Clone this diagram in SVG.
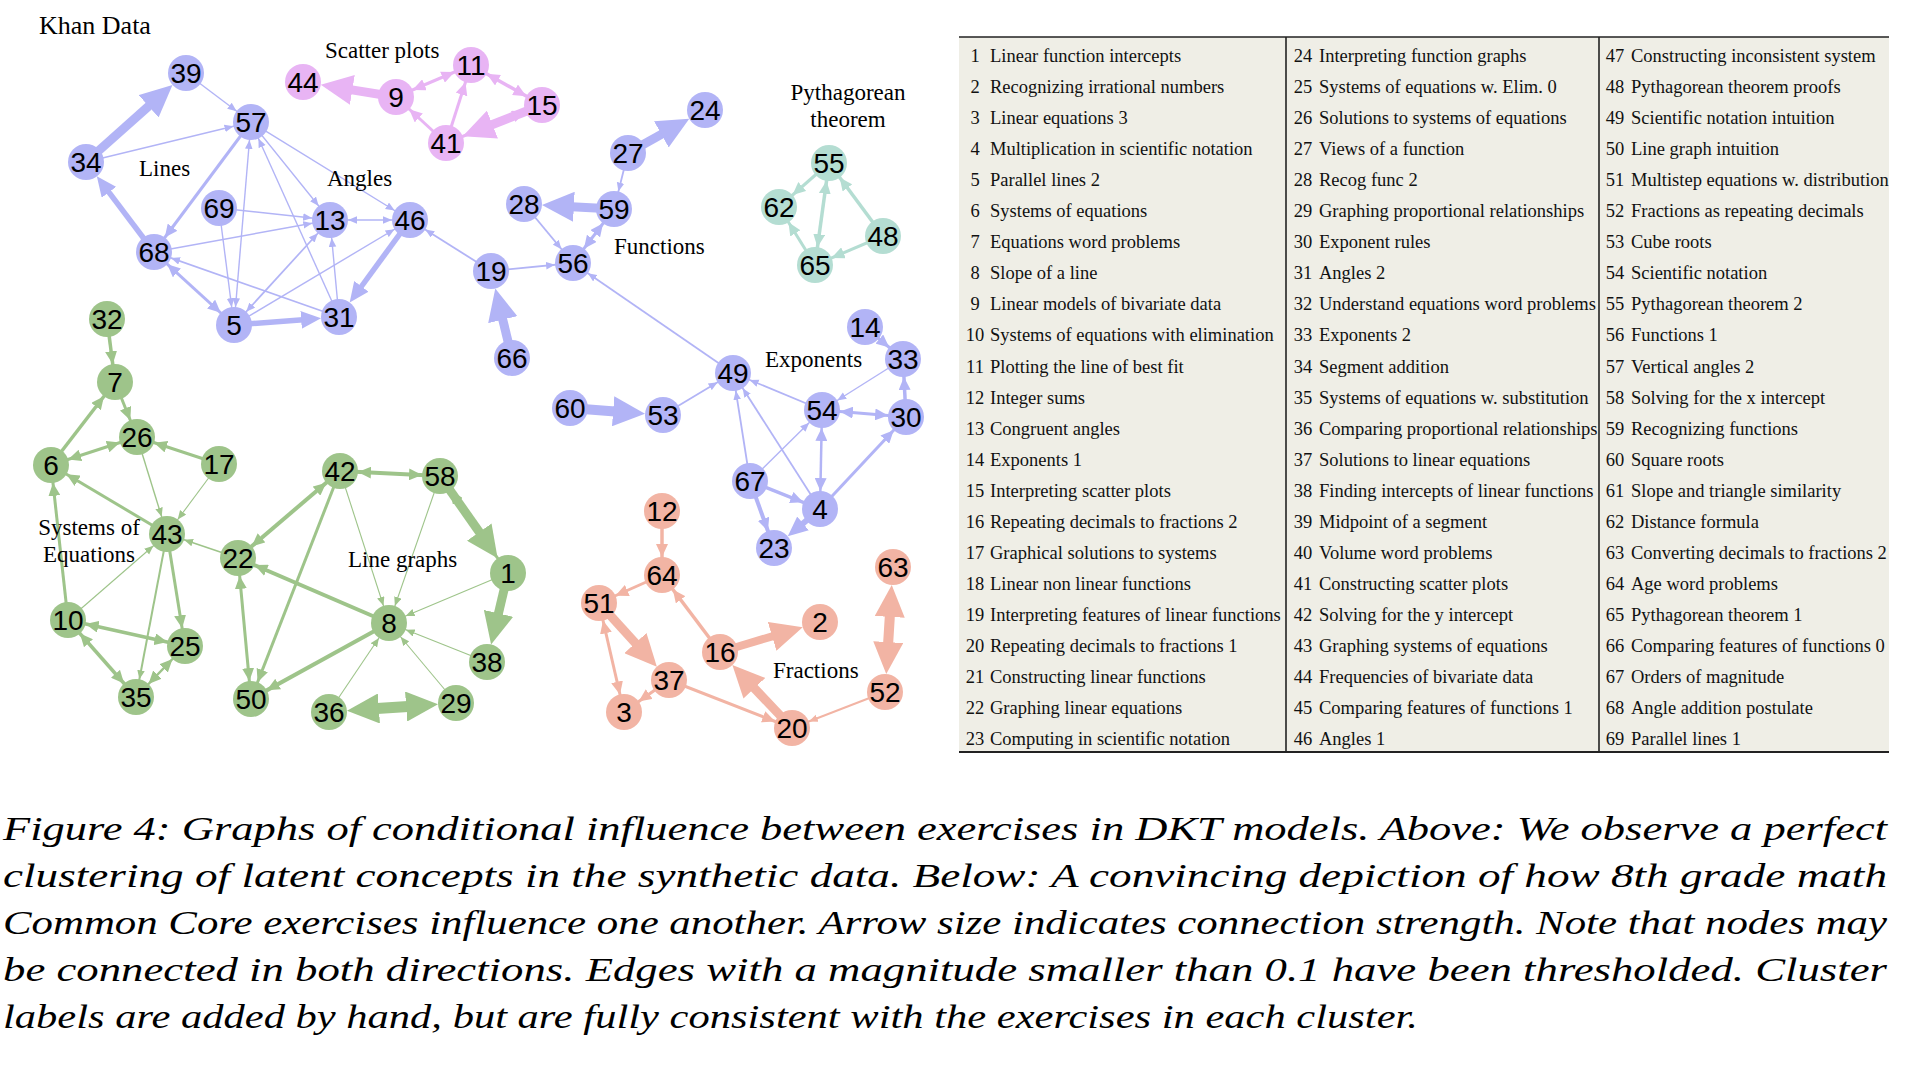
<svg xmlns="http://www.w3.org/2000/svg" width="1914" height="1070" viewBox="0 0 1914 1070">
<style>
.fB{fill:#b2b4f6}.fP{fill:#e8b4f4}.fG{fill:#9ec48a}.fT{fill:#b4ddd2}.fS{fill:#f2b4a4}
#edges line{fill:none;stroke-linecap:butt}
.B{stroke:#b2b4f6}.P{stroke:#e8b4f4}.G{stroke:#9ec48a}.T{stroke:#b4ddd2}.S{stroke:#f2b4a4}
.s{stroke-width:1.4}.m{stroke-width:3}.l{stroke-width:5.5}.x{stroke-width:9}
.node text{font-family:"Liberation Sans",Arial,sans-serif;font-size:28px;text-anchor:middle;fill:#000}
.lab{font-family:"Liberation Serif","Times New Roman",serif;font-size:23px;fill:#000}
.tab{font-family:"Liberation Serif","Times New Roman",serif;font-size:18.5px;fill:#111}
.cap{font-family:"Liberation Serif","Times New Roman",serif;font-style:italic;font-size:34px;fill:#000}
.rule{stroke:#222;stroke-width:1.6}
</style>
<defs>
<marker id="Bs" markerUnits="userSpaceOnUse" orient="auto-start-reverse" markerWidth="10" markerHeight="8" refX="27" refY="3.8"><path class="fB" d="M9,3.8L0,0L0,7.6Z"/></marker>
<marker id="Bm" markerUnits="userSpaceOnUse" orient="auto-start-reverse" markerWidth="14" markerHeight="12" refX="31" refY="6"><path class="fB" d="M13,6L0,0L0,12Z"/></marker>
<marker id="Bl" markerUnits="userSpaceOnUse" orient="auto-start-reverse" markerWidth="21" markerHeight="18" refX="2" refY="9"><path class="fB" d="M20,9L0,0L0,18Z"/></marker>
<marker id="Bx" markerUnits="userSpaceOnUse" orient="auto-start-reverse" markerWidth="33" markerHeight="30" refX="2" refY="15"><path class="fB" d="M32,15L0,0L0,30Z"/></marker>
<marker id="Pm" markerUnits="userSpaceOnUse" orient="auto-start-reverse" markerWidth="14" markerHeight="12" refX="31" refY="6"><path class="fP" d="M13,6L0,0L0,12Z"/></marker>
<marker id="Px" markerUnits="userSpaceOnUse" orient="auto-start-reverse" markerWidth="33" markerHeight="30" refX="2" refY="15"><path class="fP" d="M32,15L0,0L0,30Z"/></marker>
<marker id="Tm" markerUnits="userSpaceOnUse" orient="auto-start-reverse" markerWidth="14" markerHeight="12" refX="31" refY="6"><path class="fT" d="M13,6L0,0L0,12Z"/></marker>
<marker id="Gs" markerUnits="userSpaceOnUse" orient="auto-start-reverse" markerWidth="10" markerHeight="8" refX="27" refY="3.8"><path class="fG" d="M9,3.8L0,0L0,7.6Z"/></marker>
<marker id="Gm" markerUnits="userSpaceOnUse" orient="auto-start-reverse" markerWidth="14" markerHeight="12" refX="31" refY="6"><path class="fG" d="M13,6L0,0L0,12Z"/></marker>
<marker id="Gx" markerUnits="userSpaceOnUse" orient="auto-start-reverse" markerWidth="33" markerHeight="30" refX="2" refY="15"><path class="fG" d="M32,15L0,0L0,30Z"/></marker>
<marker id="Ss" markerUnits="userSpaceOnUse" orient="auto-start-reverse" markerWidth="10" markerHeight="8" refX="27" refY="3.8"><path class="fS" d="M9,3.8L0,0L0,7.6Z"/></marker>
<marker id="Sm" markerUnits="userSpaceOnUse" orient="auto-start-reverse" markerWidth="14" markerHeight="12" refX="31" refY="6"><path class="fS" d="M13,6L0,0L0,12Z"/></marker>
<marker id="Sx" markerUnits="userSpaceOnUse" orient="auto-start-reverse" markerWidth="33" markerHeight="30" refX="2" refY="15"><path class="fS" d="M32,15L0,0L0,30Z"/></marker>
</defs>
<rect width="1914" height="1070" fill="#fff"/>

<g id="edges">
<line class="B x" x1="86" y1="162" x2="150.1" y2="104.9" marker-end="url(#Bx)"/>
<line class="B s" x1="186" y1="73" x2="251" y2="122" marker-end="url(#Bs)"/>
<line class="B s" x1="86" y1="162" x2="251" y2="122" marker-end="url(#Bs)"/>
<line class="B m" x1="251" y1="122" x2="154" y2="252" marker-end="url(#Bm)"/>
<line class="B l" x1="154" y1="252" x2="107.7" y2="190.7" marker-end="url(#Bl)"/>
<line class="B s" x1="251" y1="122" x2="234" y2="325" marker-start="url(#Bs)" marker-end="url(#Bs)"/>
<line class="B s" x1="339" y1="317" x2="251" y2="122" marker-end="url(#Bs)"/>
<line class="B s" x1="251" y1="122" x2="330" y2="220" marker-end="url(#Bs)"/>
<line class="B s" x1="251" y1="122" x2="410" y2="220" marker-end="url(#Bs)"/>
<line class="B s" x1="219" y1="208" x2="330" y2="220" marker-end="url(#Bs)"/>
<line class="B s" x1="219" y1="208" x2="234" y2="325" marker-end="url(#Bs)"/>
<line class="B s" x1="154" y1="252" x2="330" y2="220" marker-end="url(#Bs)"/>
<line class="B s" x1="330" y1="220" x2="410" y2="220" marker-start="url(#Bs)" marker-end="url(#Bs)"/>
<line class="B m" x1="154" y1="252" x2="234" y2="325" marker-start="url(#Bm)" marker-end="url(#Bm)"/>
<line class="B s" x1="339" y1="317" x2="154" y2="252" marker-end="url(#Bs)" style="stroke-width:1.8"/>
<line class="B s" x1="234" y1="325" x2="330" y2="220" marker-start="url(#Bs)" marker-end="url(#Bs)" style="stroke-width:1.7"/>
<line class="B s" x1="234" y1="325" x2="410" y2="220" marker-end="url(#Bs)"/>
<line class="B l" x1="234" y1="325" x2="303.1" y2="319.7" marker-end="url(#Bl)"/>
<line class="B s" x1="339" y1="317" x2="330" y2="220" marker-end="url(#Bs)"/>
<line class="B l" x1="410" y1="220" x2="360.3" y2="288" marker-end="url(#Bl)"/>
<line class="B s" x1="491" y1="271" x2="410" y2="220" marker-end="url(#Bs)" style="stroke-width:1.8"/>
<line class="B s" x1="491" y1="271" x2="573" y2="263" marker-end="url(#Bs)" style="stroke-width:1.8"/>
<line class="B x" x1="512" y1="358" x2="502.3" y2="317.7" marker-end="url(#Bx)"/>
<line class="B s" x1="524" y1="204" x2="573" y2="263" marker-end="url(#Bs)" style="stroke-width:1.8"/>
<line class="B x" x1="614" y1="209" x2="571.9" y2="206.7" marker-end="url(#Bx)"/>
<line class="B m" x1="614" y1="209" x2="573" y2="263" marker-start="url(#Bm)" marker-end="url(#Bm)"/>
<line class="B s" x1="628" y1="153" x2="614" y2="209" marker-end="url(#Bs)" style="stroke-width:1.8"/>
<line class="B x" x1="628" y1="153" x2="663.1" y2="133.4" marker-end="url(#Bx)"/>
<line class="B s" x1="733" y1="373" x2="573" y2="263" marker-end="url(#Bs)" style="stroke-width:1.8"/>

<line class="P x" x1="396" y1="97" x2="350.4" y2="89.6" marker-end="url(#Px)"/>
<line class="P m" x1="396" y1="97" x2="471" y2="65" marker-start="url(#Pm)" marker-end="url(#Pm)"/>
<line class="P m" x1="446" y1="143" x2="396" y2="97" marker-end="url(#Pm)"/>
<line class="P m" x1="446" y1="143" x2="471" y2="65" marker-end="url(#Pm)"/>
<line class="P m" x1="471" y1="65" x2="542" y2="105" marker-start="url(#Pm)" marker-end="url(#Pm)" style="stroke-width:3.5"/>
<line class="P m" x1="446" y1="143" x2="542" y2="105" marker-end="url(#Pm)"/>
<line class="P x" x1="542" y1="105" x2="490.6" y2="125.3" marker-end="url(#Px)"/>

<line class="T m" x1="829" y1="163" x2="779" y2="207" marker-end="url(#Tm)"/>
<line class="T m" x1="815" y1="265" x2="829" y2="163" marker-start="url(#Tm)" marker-end="url(#Tm)" style="stroke-width:3.5"/>
<line class="T m" x1="815" y1="265" x2="779" y2="207" marker-end="url(#Tm)"/>
<line class="T m" x1="883" y1="236" x2="829" y2="163" marker-end="url(#Tm)" style="stroke-width:3.5"/>
<line class="T m" x1="883" y1="236" x2="815" y2="265" marker-end="url(#Tm)"/>

<line class="G m" x1="107" y1="319" x2="115" y2="382" marker-end="url(#Gm)" style="stroke-width:3.5"/>
<line class="G m" x1="51" y1="465" x2="115" y2="382" marker-end="url(#Gm)" style="stroke-width:3.5"/>
<line class="G m" x1="115" y1="382" x2="137" y2="437" marker-end="url(#Gm)"/>
<line class="G m" x1="51" y1="465" x2="137" y2="437" marker-start="url(#Gm)" marker-end="url(#Gm)"/>
<line class="G m" x1="219" y1="464" x2="137" y2="437" marker-end="url(#Gm)"/>
<line class="G m" x1="167" y1="534" x2="51" y2="465" marker-end="url(#Gm)"/>
<line class="G s" x1="137" y1="437" x2="167" y2="534" marker-end="url(#Gs)"/>
<line class="G s" x1="219" y1="464" x2="167" y2="534" marker-end="url(#Gs)" style="stroke-width:1.1"/>
<line class="G m" x1="68" y1="620" x2="51" y2="465" marker-end="url(#Gm)"/>
<line class="G s" x1="68" y1="620" x2="167" y2="534" marker-end="url(#Gs)" style="stroke-width:1.1"/>
<line class="G m" x1="167" y1="534" x2="185" y2="646" marker-end="url(#Gm)"/>
<line class="G s" x1="167" y1="534" x2="136" y2="697" marker-end="url(#Gs)" style="stroke-width:2"/>
<line class="G s" x1="238" y1="558" x2="167" y2="534" marker-end="url(#Gs)" style="stroke-width:1.6"/>
<line class="G m" x1="68" y1="620" x2="185" y2="646" marker-start="url(#Gm)" marker-end="url(#Gm)" style="stroke-width:3.5"/>
<line class="G m" x1="68" y1="620" x2="136" y2="697" marker-start="url(#Gm)" marker-end="url(#Gm)" style="stroke-width:3.5"/>
<line class="G m" x1="185" y1="646" x2="136" y2="697" marker-start="url(#Gm)" marker-end="url(#Gm)" style="stroke-width:2.5"/>

<line class="G m" x1="238" y1="558" x2="340" y2="471" marker-start="url(#Gm)" marker-end="url(#Gm)" style="stroke-width:4"/>
<line class="G m" x1="340" y1="471" x2="440" y2="476" marker-start="url(#Gm)" marker-end="url(#Gm)" style="stroke-width:4"/>
<line class="G m" x1="340" y1="471" x2="251" y2="699" marker-end="url(#Gm)"/>
<line class="G s" x1="340" y1="471" x2="389" y2="623" marker-end="url(#Gs)" style="stroke-width:1.1"/>
<line class="G s" x1="440" y1="476" x2="389" y2="623" marker-end="url(#Gs)" style="stroke-width:1.1"/>
<line class="G m" x1="508" y1="573" x2="440" y2="476" marker-end="url(#Gm)"/>
<line class="G x" x1="440" y1="476" x2="480.4" y2="533.7" marker-end="url(#Gx)"/>
<line class="G x" x1="508" y1="573" x2="498" y2="615.3" marker-end="url(#Gx)"/>
<line class="G s" x1="508" y1="573" x2="389" y2="623" marker-end="url(#Gs)" style="stroke-width:1.1"/>
<line class="G s" x1="487" y1="662" x2="389" y2="623" marker-end="url(#Gs)" style="stroke-width:1.1"/>
<line class="G m" x1="389" y1="623" x2="238" y2="558" marker-end="url(#Gm)" style="stroke-width:4"/>
<line class="G m" x1="389" y1="623" x2="251" y2="699" marker-end="url(#Gm)" style="stroke-width:4"/>
<line class="G m" x1="238" y1="558" x2="251" y2="699" marker-start="url(#Gm)" marker-end="url(#Gm)"/>
<line class="G s" x1="329" y1="712" x2="389" y2="623" marker-end="url(#Gs)" style="stroke-width:1.1"/>
<line class="G s" x1="456" y1="703" x2="389" y2="623" marker-end="url(#Gs)" style="stroke-width:1.1"/>
<line class="G x" x1="376.9" y1="708.6" x2="408.1" y2="706.4" marker-start="url(#Gx)" marker-end="url(#Gx)" style="stroke-width:11"/>

<line class="B x" x1="570" y1="408" x2="615.1" y2="411.4" marker-end="url(#Bx)" style="stroke-width:10"/>
<line class="B s" x1="663" y1="415" x2="733" y2="373" marker-end="url(#Bs)" style="stroke-width:1.8"/>
<line class="B s" x1="822" y1="410" x2="733" y2="373" marker-end="url(#Bs)" style="stroke-width:1.8"/>
<line class="B s" x1="750" y1="481" x2="733" y2="373" marker-end="url(#Bs)" style="stroke-width:1.8"/>
<line class="B s" x1="820" y1="509" x2="733" y2="373" marker-end="url(#Bs)" style="stroke-width:1.8"/>
<line class="B s" x1="903" y1="359" x2="822" y2="410" marker-end="url(#Bs)"/>
<line class="B m" x1="865" y1="327" x2="903" y2="359" marker-end="url(#Bm)"/>
<line class="B m" x1="822" y1="410" x2="906" y2="417" marker-start="url(#Bm)" marker-end="url(#Bm)"/>
<line class="B m" x1="906" y1="417" x2="903" y2="359" marker-end="url(#Bm)" style="stroke-width:3.5"/>
<line class="B s" x1="750" y1="481" x2="822" y2="410" marker-end="url(#Bs)"/>
<line class="B m" x1="822" y1="410" x2="820" y2="509" marker-start="url(#Bm)" marker-end="url(#Bm)" style="stroke-width:2.5"/>
<line class="B m" x1="820" y1="509" x2="906" y2="417" marker-end="url(#Bm)"/>
<line class="B m" x1="750" y1="481" x2="820" y2="509" marker-end="url(#Bm)" style="stroke-width:3.5"/>
<line class="B m" x1="750" y1="481" x2="774" y2="548" marker-end="url(#Bm)" style="stroke-width:4"/>
<line class="B l" x1="820" y1="509" x2="801.5" y2="524.7" marker-end="url(#Bl)" style="stroke-width:6"/>

<line class="S m" x1="662" y1="511" x2="662" y2="575" marker-end="url(#Sm)" style="stroke-width:3.5"/>
<line class="S m" x1="662" y1="575" x2="599" y2="603" marker-end="url(#Sm)"/>
<line class="S x" x1="599" y1="603" x2="636.7" y2="644.5" marker-end="url(#Sx)"/>
<line class="S m" x1="599" y1="603" x2="624" y2="712" marker-start="url(#Sm)" marker-end="url(#Sm)"/>
<line class="S m" x1="669" y1="680" x2="624" y2="712" marker-end="url(#Sm)"/>
<line class="S m" x1="720" y1="652" x2="662" y2="575" marker-end="url(#Sm)" style="stroke-width:3.5"/>
<line class="S x" x1="720" y1="652" x2="774" y2="635.8" marker-end="url(#Sx)" style="stroke-width:8"/>
<line class="S x" x1="792" y1="728" x2="753" y2="686.8" marker-end="url(#Sx)"/>
<line class="S m" x1="669" y1="680" x2="792" y2="728" marker-end="url(#Sm)"/>
<line class="S s" x1="885" y1="692" x2="792" y2="728" marker-end="url(#Ss)" style="stroke-width:2"/>
<line class="S x" x1="888.1" y1="644.1" x2="889.9" y2="614.9" marker-start="url(#Sx)" marker-end="url(#Sx)" style="stroke-width:10"/>
</g>

<g id="nodes">
<g id="n39" class="node"><circle class="fB" cx="186" cy="73" r="18"/><text x="186" y="83">39</text></g>
<g id="n57" class="node"><circle class="fB" cx="251" cy="122" r="18"/><text x="251" y="132">57</text></g>
<g id="n34" class="node"><circle class="fB" cx="86" cy="162" r="18"/><text x="86" y="172">34</text></g>
<g id="n69" class="node"><circle class="fB" cx="219" cy="208" r="18"/><text x="219" y="218">69</text></g>
<g id="n13" class="node"><circle class="fB" cx="330" cy="220" r="18"/><text x="330" y="230">13</text></g>
<g id="n46" class="node"><circle class="fB" cx="410" cy="220" r="18"/><text x="410" y="230">46</text></g>
<g id="n68" class="node"><circle class="fB" cx="154" cy="252" r="18"/><text x="154" y="262">68</text></g>
<g id="n5" class="node"><circle class="fB" cx="234" cy="325" r="18"/><text x="234" y="335">5</text></g>
<g id="n31" class="node"><circle class="fB" cx="339" cy="317" r="18"/><text x="339" y="327">31</text></g>
<g id="n19" class="node"><circle class="fB" cx="491" cy="271" r="18"/><text x="491" y="281">19</text></g>
<g id="n28" class="node"><circle class="fB" cx="524" cy="204" r="18"/><text x="524" y="214">28</text></g>
<g id="n59" class="node"><circle class="fB" cx="614" cy="209" r="18"/><text x="614" y="219">59</text></g>
<g id="n27" class="node"><circle class="fB" cx="628" cy="153" r="18"/><text x="628" y="163">27</text></g>
<g id="n24" class="node"><circle class="fB" cx="705" cy="110" r="18"/><text x="705" y="120">24</text></g>
<g id="n56" class="node"><circle class="fB" cx="573" cy="263" r="18"/><text x="573" y="273">56</text></g>
<g id="n66" class="node"><circle class="fB" cx="512" cy="358" r="18"/><text x="512" y="368">66</text></g>
<g id="n44" class="node"><circle class="fP" cx="303" cy="82" r="18"/><text x="303" y="92">44</text></g>
<g id="n9" class="node"><circle class="fP" cx="396" cy="97" r="18"/><text x="396" y="107">9</text></g>
<g id="n11" class="node"><circle class="fP" cx="471" cy="65" r="18"/><text x="471" y="75">11</text></g>
<g id="n15" class="node"><circle class="fP" cx="542" cy="105" r="18"/><text x="542" y="115">15</text></g>
<g id="n41" class="node"><circle class="fP" cx="446" cy="143" r="18"/><text x="446" y="153">41</text></g>
<g id="n55" class="node"><circle class="fT" cx="829" cy="163" r="18"/><text x="829" y="173">55</text></g>
<g id="n62" class="node"><circle class="fT" cx="779" cy="207" r="18"/><text x="779" y="217">62</text></g>
<g id="n48" class="node"><circle class="fT" cx="883" cy="236" r="18"/><text x="883" y="246">48</text></g>
<g id="n65" class="node"><circle class="fT" cx="815" cy="265" r="18"/><text x="815" y="275">65</text></g>
<g id="n32" class="node"><circle class="fG" cx="107" cy="319" r="18"/><text x="107" y="329">32</text></g>
<g id="n7" class="node"><circle class="fG" cx="115" cy="382" r="18"/><text x="115" y="392">7</text></g>
<g id="n26" class="node"><circle class="fG" cx="137" cy="437" r="18"/><text x="137" y="447">26</text></g>
<g id="n6" class="node"><circle class="fG" cx="51" cy="465" r="18"/><text x="51" y="475">6</text></g>
<g id="n17" class="node"><circle class="fG" cx="219" cy="464" r="18"/><text x="219" y="474">17</text></g>
<g id="n43" class="node"><circle class="fG" cx="167" cy="534" r="18"/><text x="167" y="544">43</text></g>
<g id="n10" class="node"><circle class="fG" cx="68" cy="620" r="18"/><text x="68" y="630">10</text></g>
<g id="n25" class="node"><circle class="fG" cx="185" cy="646" r="18"/><text x="185" y="656">25</text></g>
<g id="n35" class="node"><circle class="fG" cx="136" cy="697" r="18"/><text x="136" y="707">35</text></g>
<g id="n42" class="node"><circle class="fG" cx="340" cy="471" r="18"/><text x="340" y="481">42</text></g>
<g id="n58" class="node"><circle class="fG" cx="440" cy="476" r="18"/><text x="440" y="486">58</text></g>
<g id="n22" class="node"><circle class="fG" cx="238" cy="558" r="18"/><text x="238" y="568">22</text></g>
<g id="n1" class="node"><circle class="fG" cx="508" cy="573" r="18"/><text x="508" y="583">1</text></g>
<g id="n8" class="node"><circle class="fG" cx="389" cy="623" r="18"/><text x="389" y="633">8</text></g>
<g id="n38" class="node"><circle class="fG" cx="487" cy="662" r="18"/><text x="487" y="672">38</text></g>
<g id="n50" class="node"><circle class="fG" cx="251" cy="699" r="18"/><text x="251" y="709">50</text></g>
<g id="n36" class="node"><circle class="fG" cx="329" cy="712" r="18"/><text x="329" y="722">36</text></g>
<g id="n29" class="node"><circle class="fG" cx="456" cy="703" r="18"/><text x="456" y="713">29</text></g>
<g id="n49" class="node"><circle class="fB" cx="733" cy="373" r="18"/><text x="733" y="383">49</text></g>
<g id="n60" class="node"><circle class="fB" cx="570" cy="408" r="18"/><text x="570" y="418">60</text></g>
<g id="n53" class="node"><circle class="fB" cx="663" cy="415" r="18"/><text x="663" y="425">53</text></g>
<g id="n54" class="node"><circle class="fB" cx="822" cy="410" r="18"/><text x="822" y="420">54</text></g>
<g id="n30" class="node"><circle class="fB" cx="906" cy="417" r="18"/><text x="906" y="427">30</text></g>
<g id="n33" class="node"><circle class="fB" cx="903" cy="359" r="18"/><text x="903" y="369">33</text></g>
<g id="n14" class="node"><circle class="fB" cx="865" cy="327" r="18"/><text x="865" y="337">14</text></g>
<g id="n67" class="node"><circle class="fB" cx="750" cy="481" r="18"/><text x="750" y="491">67</text></g>
<g id="n4" class="node"><circle class="fB" cx="820" cy="509" r="18"/><text x="820" y="519">4</text></g>
<g id="n23" class="node"><circle class="fB" cx="774" cy="548" r="18"/><text x="774" y="558">23</text></g>
<g id="n12" class="node"><circle class="fS" cx="662" cy="511" r="18"/><text x="662" y="521">12</text></g>
<g id="n64" class="node"><circle class="fS" cx="662" cy="575" r="18"/><text x="662" y="585">64</text></g>
<g id="n51" class="node"><circle class="fS" cx="599" cy="603" r="18"/><text x="599" y="613">51</text></g>
<g id="n16" class="node"><circle class="fS" cx="720" cy="652" r="18"/><text x="720" y="662">16</text></g>
<g id="n2" class="node"><circle class="fS" cx="820" cy="622" r="18"/><text x="820" y="632">2</text></g>
<g id="n37" class="node"><circle class="fS" cx="669" cy="680" r="18"/><text x="669" y="690">37</text></g>
<g id="n3" class="node"><circle class="fS" cx="624" cy="712" r="18"/><text x="624" y="722">3</text></g>
<g id="n20" class="node"><circle class="fS" cx="792" cy="728" r="18"/><text x="792" y="738">20</text></g>
<g id="n52" class="node"><circle class="fS" cx="885" cy="692" r="18"/><text x="885" y="702">52</text></g>
<g id="n63" class="node"><circle class="fS" cx="893" cy="567" r="18"/><text x="893" y="577">63</text></g>
</g>

<g id="labels" class="lab">
<text x="39" y="34" style="font-size:26px">Khan Data</text>
<text x="325" y="58">Scatter plots</text>
<text x="139" y="176">Lines</text>
<text x="327" y="186">Angles</text>
<text x="848" y="100" text-anchor="middle">Pythagorean</text>
<text x="848" y="127" text-anchor="middle">theorem</text>
<text x="614" y="254">Functions</text>
<text x="765" y="367">Exponents</text>
<text x="773" y="678">Fractions</text>
<text x="89" y="535" text-anchor="middle">Systems of</text>
<text x="89" y="562" text-anchor="middle">Equations</text>
<text x="348" y="567">Line graphs</text>
</g>

<g id="table">
<rect x="959" y="37" width="930" height="715" fill="#efeee6"/>
<line class="rule" x1="959" y1="37" x2="1889" y2="37"/>
<line class="rule" x1="959" y1="752" x2="1889" y2="752" style="stroke-width:2"/>
<line class="rule" x1="1286" y1="37" x2="1286" y2="752"/>
<line class="rule" x1="1599" y1="37" x2="1599" y2="752"/>
<text class="tab" text-anchor="middle"><tspan x="975" y="62">1</tspan><tspan x="975" dy="31.05">2</tspan><tspan x="975" dy="31.05">3</tspan><tspan x="975" dy="31.05">4</tspan><tspan x="975" dy="31.05">5</tspan><tspan x="975" dy="31.05">6</tspan><tspan x="975" dy="31.05">7</tspan><tspan x="975" dy="31.05">8</tspan><tspan x="975" dy="31.05">9</tspan><tspan x="975" dy="31.05">10</tspan><tspan x="975" dy="31.05">11</tspan><tspan x="975" dy="31.05">12</tspan><tspan x="975" dy="31.05">13</tspan><tspan x="975" dy="31.05">14</tspan><tspan x="975" dy="31.05">15</tspan><tspan x="975" dy="31.05">16</tspan><tspan x="975" dy="31.05">17</tspan><tspan x="975" dy="31.05">18</tspan><tspan x="975" dy="31.05">19</tspan><tspan x="975" dy="31.05">20</tspan><tspan x="975" dy="31.05">21</tspan><tspan x="975" dy="31.05">22</tspan><tspan x="975" dy="31.05">23</tspan></text>
<text class="tab"><tspan x="990" y="62">Linear function intercepts</tspan><tspan x="990" dy="31.05">Recognizing irrational numbers</tspan><tspan x="990" dy="31.05">Linear equations 3</tspan><tspan x="990" dy="31.05">Multiplication in scientific notation</tspan><tspan x="990" dy="31.05">Parallel lines 2</tspan><tspan x="990" dy="31.05">Systems of equations</tspan><tspan x="990" dy="31.05">Equations word problems</tspan><tspan x="990" dy="31.05">Slope of a line</tspan><tspan x="990" dy="31.05">Linear models of bivariate data</tspan><tspan x="990" dy="31.05">Systems of equations with elimination</tspan><tspan x="990" dy="31.05">Plotting the line of best fit</tspan><tspan x="990" dy="31.05">Integer sums</tspan><tspan x="990" dy="31.05">Congruent angles</tspan><tspan x="990" dy="31.05">Exponents 1</tspan><tspan x="990" dy="31.05">Interpreting scatter plots</tspan><tspan x="990" dy="31.05">Repeating decimals to fractions 2</tspan><tspan x="990" dy="31.05">Graphical solutions to systems</tspan><tspan x="990" dy="31.05">Linear non linear functions</tspan><tspan x="990" dy="31.05">Interpreting features of linear functions</tspan><tspan x="990" dy="31.05">Repeating decimals to fractions 1</tspan><tspan x="990" dy="31.05">Constructing linear functions</tspan><tspan x="990" dy="31.05">Graphing linear equations</tspan><tspan x="990" dy="31.05">Computing in scientific notation</tspan></text>
<text class="tab" text-anchor="middle"><tspan x="1303" y="62">24</tspan><tspan x="1303" dy="31.05">25</tspan><tspan x="1303" dy="31.05">26</tspan><tspan x="1303" dy="31.05">27</tspan><tspan x="1303" dy="31.05">28</tspan><tspan x="1303" dy="31.05">29</tspan><tspan x="1303" dy="31.05">30</tspan><tspan x="1303" dy="31.05">31</tspan><tspan x="1303" dy="31.05">32</tspan><tspan x="1303" dy="31.05">33</tspan><tspan x="1303" dy="31.05">34</tspan><tspan x="1303" dy="31.05">35</tspan><tspan x="1303" dy="31.05">36</tspan><tspan x="1303" dy="31.05">37</tspan><tspan x="1303" dy="31.05">38</tspan><tspan x="1303" dy="31.05">39</tspan><tspan x="1303" dy="31.05">40</tspan><tspan x="1303" dy="31.05">41</tspan><tspan x="1303" dy="31.05">42</tspan><tspan x="1303" dy="31.05">43</tspan><tspan x="1303" dy="31.05">44</tspan><tspan x="1303" dy="31.05">45</tspan><tspan x="1303" dy="31.05">46</tspan></text>
<text class="tab"><tspan x="1319" y="62">Interpreting function graphs</tspan><tspan x="1319" dy="31.05">Systems of equations w. Elim. 0</tspan><tspan x="1319" dy="31.05">Solutions to systems of equations</tspan><tspan x="1319" dy="31.05">Views of a function</tspan><tspan x="1319" dy="31.05">Recog func 2</tspan><tspan x="1319" dy="31.05">Graphing proportional relationships</tspan><tspan x="1319" dy="31.05">Exponent rules</tspan><tspan x="1319" dy="31.05">Angles 2</tspan><tspan x="1319" dy="31.05">Understand equations word problems</tspan><tspan x="1319" dy="31.05">Exponents 2</tspan><tspan x="1319" dy="31.05">Segment addition</tspan><tspan x="1319" dy="31.05">Systems of equations w. substitution</tspan><tspan x="1319" dy="31.05">Comparing proportional relationships</tspan><tspan x="1319" dy="31.05">Solutions to linear equations</tspan><tspan x="1319" dy="31.05">Finding intercepts of linear functions</tspan><tspan x="1319" dy="31.05">Midpoint of a segment</tspan><tspan x="1319" dy="31.05">Volume word problems</tspan><tspan x="1319" dy="31.05">Constructing scatter plots</tspan><tspan x="1319" dy="31.05">Solving for the y intercept</tspan><tspan x="1319" dy="31.05">Graphing systems of equations</tspan><tspan x="1319" dy="31.05">Frequencies of bivariate data</tspan><tspan x="1319" dy="31.05">Comparing features of functions 1</tspan><tspan x="1319" dy="31.05">Angles 1</tspan></text>
<text class="tab" text-anchor="middle"><tspan x="1615" y="62">47</tspan><tspan x="1615" dy="31.05">48</tspan><tspan x="1615" dy="31.05">49</tspan><tspan x="1615" dy="31.05">50</tspan><tspan x="1615" dy="31.05">51</tspan><tspan x="1615" dy="31.05">52</tspan><tspan x="1615" dy="31.05">53</tspan><tspan x="1615" dy="31.05">54</tspan><tspan x="1615" dy="31.05">55</tspan><tspan x="1615" dy="31.05">56</tspan><tspan x="1615" dy="31.05">57</tspan><tspan x="1615" dy="31.05">58</tspan><tspan x="1615" dy="31.05">59</tspan><tspan x="1615" dy="31.05">60</tspan><tspan x="1615" dy="31.05">61</tspan><tspan x="1615" dy="31.05">62</tspan><tspan x="1615" dy="31.05">63</tspan><tspan x="1615" dy="31.05">64</tspan><tspan x="1615" dy="31.05">65</tspan><tspan x="1615" dy="31.05">66</tspan><tspan x="1615" dy="31.05">67</tspan><tspan x="1615" dy="31.05">68</tspan><tspan x="1615" dy="31.05">69</tspan></text>
<text class="tab"><tspan x="1631" y="62">Constructing inconsistent system</tspan><tspan x="1631" dy="31.05">Pythagorean theorem proofs</tspan><tspan x="1631" dy="31.05">Scientific notation intuition</tspan><tspan x="1631" dy="31.05">Line graph intuition</tspan><tspan x="1631" dy="31.05">Multistep equations w. distribution</tspan><tspan x="1631" dy="31.05">Fractions as repeating decimals</tspan><tspan x="1631" dy="31.05">Cube roots</tspan><tspan x="1631" dy="31.05">Scientific notation</tspan><tspan x="1631" dy="31.05">Pythagorean theorem 2</tspan><tspan x="1631" dy="31.05">Functions 1</tspan><tspan x="1631" dy="31.05">Vertical angles 2</tspan><tspan x="1631" dy="31.05">Solving for the x intercept</tspan><tspan x="1631" dy="31.05">Recognizing functions</tspan><tspan x="1631" dy="31.05">Square roots</tspan><tspan x="1631" dy="31.05">Slope and triangle similarity</tspan><tspan x="1631" dy="31.05">Distance formula</tspan><tspan x="1631" dy="31.05">Converting decimals to fractions 2</tspan><tspan x="1631" dy="31.05">Age word problems</tspan><tspan x="1631" dy="31.05">Pythagorean theorem 1</tspan><tspan x="1631" dy="31.05">Comparing features of functions 0</tspan><tspan x="1631" dy="31.05">Orders of magnitude</tspan><tspan x="1631" dy="31.05">Angle addition postulate</tspan><tspan x="1631" dy="31.05">Parallel lines 1</tspan></text>
</g>

<g id="caption" class="cap">
<text x="3" y="840" textLength="1884" lengthAdjust="spacingAndGlyphs">Figure 4:  Graphs of conditional influence between exercises in DKT models.  Above:  We observe a perfect</text>
<text x="3" y="887" textLength="1884" lengthAdjust="spacingAndGlyphs">clustering of latent concepts in the synthetic data.  Below:  A convincing depiction of how 8th grade math</text>
<text x="3" y="934" textLength="1884" lengthAdjust="spacingAndGlyphs">Common Core exercises influence one another. Arrow size indicates connection strength. Note that nodes may</text>
<text x="3" y="981" textLength="1884" lengthAdjust="spacingAndGlyphs">be connected in both directions.  Edges with a magnitude smaller than 0.1 have been thresholded.  Cluster</text>
<text x="3" y="1028" textLength="1415" lengthAdjust="spacingAndGlyphs">labels are added by hand, but are fully consistent with the exercises in each cluster.</text>
</g>
</svg>
